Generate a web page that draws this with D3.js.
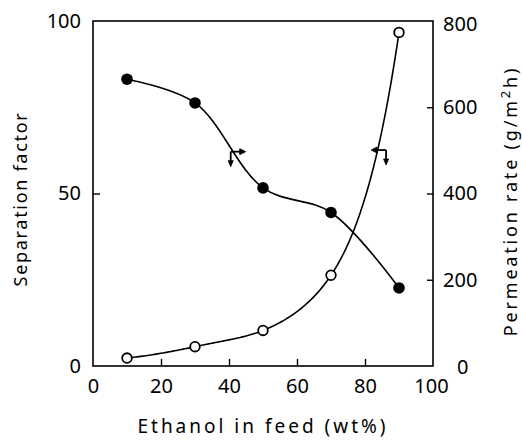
<!DOCTYPE html>
<html><head><meta charset="utf-8">
<script src="https://cdn.jsdelivr.net/npm/d3@7"></script>
<style>body{margin:0;background:#fff}svg{display:block}text{font-family:"Noto Sans",sans-serif;fill:#000}</style>
</head><body>
<svg id="c" width="522" height="444"></svg>
<script>
const ethanol = [10, 30, 50, 70, 90];
const permeationRate = [665, 610, 413, 356, 181];      // filled circles, right axis (g/m2h)
const separationFactor = [2.3, 5.6, 10.3, 26.3, 96.7]; // open circles, left axis
const xTicks = [0, 20, 40, 60, 80, 100];
const leftTicks = [0, 50, 100];
const rightTicks = [0, 200, 400, 600, 800];

const svg = d3.select("#c");
const L = 93, R = 433, T = 21, B = 366;
const x = d3.scaleLinear().domain([0, 100]).range([L, R]);
const yL = d3.scaleLinear().domain([0, 100]).range([B, T]);
const yR = d3.scaleLinear().domain([0, 800]).range([B, T]);

// frame
svg.append("rect").attr("x", L).attr("y", T).attr("width", R - L).attr("height", B - T)
  .attr("fill", "none").attr("stroke", "#000").attr("stroke-width", 1.6);

// axes (ticks inward)
const gx = svg.append("g").attr("transform", `translate(0,${B})`)
  .call(d3.axisBottom(x).tickValues(xTicks).tickSize(-7).tickPadding(13).tickFormat(d3.format("d")));
const gl = svg.append("g").attr("transform", `translate(${L},0)`)
  .call(d3.axisLeft(yL).tickValues(leftTicks).tickSize(-7).tickPadding(12).tickFormat(d3.format("d")));
const gr = svg.append("g").attr("transform", `translate(${R},0)`)
  .call(d3.axisRight(yR).tickValues(rightTicks).tickSize(-6).tickPadding(10).tickFormat(d3.format("d")));
[gx, gl, gr].forEach(g => {
  g.select(".domain").remove();
  g.selectAll(".tick line").attr("stroke", "#000").attr("stroke-width", 1.4);
  g.selectAll(".tick text").style("font-size", "20px").attr("fill", "#000");
});
gx.selectAll(".tick line").filter(d => d === 0 || d === 100).remove();
gl.selectAll(".tick line").filter(d => d === 0 || d === 100).remove();
gr.selectAll(".tick line").filter(d => d === 0 || d === 800).remove();
gx.selectAll(".tick text").filter(d => d === 100).attr("dx", -2);
gr.selectAll(".tick text").filter(d => d === 0).attr("dx", 14).attr("dy", "0.35em");
gr.selectAll(".tick text").filter(d => d === 800).attr("dy", "0.45em");

// permeation curve: smooth Catmull-Rom through the points
const lineP = d3.line().x((d, i) => x(ethanol[i])).y(d => yR(d)).curve(d3.curveCatmullRom.alpha(0.5));
svg.append("path").attr("d", lineP(permeationRate)).attr("fill", "none").attr("stroke", "#000").attr("stroke-width", 1.6);

// separation factor curve: monotone cubic interpolation in log space (smooth, exponential-like rise)
function monotoneTangents(xs, ys) {
  const n = xs.length, s = [], t = new Array(n);
  for (let i = 0; i < n - 1; i++) s.push((ys[i + 1] - ys[i]) / (xs[i + 1] - xs[i]));
  for (let i = 1; i < n - 1; i++) {
    const h0 = xs[i] - xs[i - 1], h1 = xs[i + 1] - xs[i];
    const p = (s[i - 1] * h1 + s[i] * h0) / (h0 + h1);
    t[i] = (Math.sign(s[i - 1]) + Math.sign(s[i])) * Math.min(Math.abs(s[i - 1]), Math.abs(s[i]), 0.5 * Math.abs(p)) || 0;
  }
  t[0] = (3 * s[0] - t[1]) / 2;
  t[n - 1] = (3 * s[n - 2] - t[n - 2]) / 2;
  return t;
}
const logS = separationFactor.map(Math.log);
const tanS = monotoneTangents(ethanol, logS);
const sampled = [];
for (let i = 0; i < ethanol.length - 1; i++) {
  const x0 = ethanol[i], x1 = ethanol[i + 1], h = x1 - x0;
  for (let k = 0; k < 40; k++) {
    const u = k / 40, u2 = u * u, u3 = u2 * u;
    const v = (2 * u3 - 3 * u2 + 1) * logS[i] + (u3 - 2 * u2 + u) * h * tanS[i]
            + (-2 * u3 + 3 * u2) * logS[i + 1] + (u3 - u2) * h * tanS[i + 1];
    sampled.push([x0 + u * h, Math.exp(v)]);
  }
}
sampled.push([ethanol[ethanol.length - 1], separationFactor[separationFactor.length - 1]]);
const lineS = d3.line().x(d => x(d[0])).y(d => yL(d[1]));
svg.append("path").attr("d", lineS(sampled)).attr("fill", "none").attr("stroke", "#000").attr("stroke-width", 1.6);

svg.append("g").selectAll("circle").data(permeationRate).join("circle")
  .attr("cx", (d, i) => x(ethanol[i])).attr("cy", d => yR(d)).attr("r", 5.8).attr("fill", "#000");
svg.append("g").selectAll("circle").data(separationFactor).join("circle")
  .attr("cx", (d, i) => x(ethanol[i])).attr("cy", d => yL(d)).attr("r", 4.8)
  .attr("fill", "#fff").attr("stroke", "#000").attr("stroke-width", 1.8);

// axis-assignment arrows
function marker(px, py, dir) {
  const g = svg.append("g").attr("stroke", "#000").attr("stroke-width", 1.8).attr("fill", "#000");
  const hx = px + dir * 13;
  g.append("line").attr("x1", px).attr("y1", py).attr("x2", hx).attr("y2", py);
  g.append("path").attr("d", `M${hx + dir * 2},${py}L${hx - dir * 4},${py - 3}L${hx - dir * 4},${py + 3}Z`).attr("stroke-width", 0.8);
  g.append("line").attr("x1", px).attr("y1", py).attr("x2", px).attr("y2", py + 12);
  g.append("path").attr("d", `M${px},${py + 15}L${px - 2.5},${py + 9}L${px + 2.5},${py + 9}Z`).attr("stroke-width", 0.8);
}
marker(x(40.5), yR(497), 1);
marker(x(86.2), yL(62.6), -1);

// axis titles
svg.append("text").attr("transform", "translate(27,199) rotate(-90)").attr("text-anchor", "middle")
  .style("font-size", "18px").style("letter-spacing", "1.7px").text("Separation  factor");
const rt = svg.append("text").attr("transform", "translate(517,201) rotate(-90)").attr("text-anchor", "middle")
  .style("font-size", "18px").style("letter-spacing", "2.8px");
rt.append("tspan").text("Permeation  rate  (g/m");
rt.append("tspan").attr("dy", -7).style("font-size", "13px").text("2");
rt.append("tspan").attr("dy", 7).text("h)");
svg.append("text").attr("x", 263).attr("y", 433).attr("text-anchor", "middle")
  .style("font-size", "19px").style("letter-spacing", "3px").text("Ethanol  in feed   (wt%)");
</script>
</body></html>
